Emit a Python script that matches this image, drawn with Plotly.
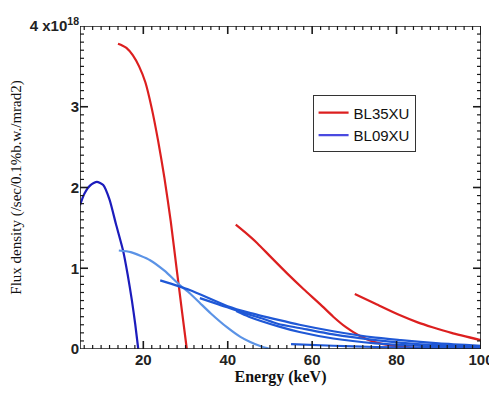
import plotly.graph_objects as go

# ---- data (energy keV, flux density x1e18) ----
red1_e = [14, 15, 16, 17.5, 19, 20.5, 22, 23.5, 25, 26.5, 28, 29.2, 30.3]
red1_f = [3.78, 3.76, 3.73, 3.64, 3.50, 3.30, 2.98, 2.58, 2.12, 1.58, 0.95, 0.45, 0.0]
red2_e = [41.9, 44, 47, 50, 54, 58, 62, 65, 68, 71, 74, 78, 83, 91]
red2_f = [1.54, 1.45, 1.31, 1.15, 0.94, 0.74, 0.55, 0.40, 0.27, 0.17, 0.10, 0.05, 0.02, 0.0]
red3_e = [70.1, 75, 80.7, 85, 88.5, 93, 100]
red3_f = [0.68, 0.56, 0.42, 0.33, 0.27, 0.20, 0.11]

blue1_e = [5, 6, 7.5, 9, 10.5, 12, 13.5, 15.2, 16.3, 17.3, 18.1, 18.8]
blue1_f = [1.78, 1.92, 2.03, 2.07, 2.03, 1.85, 1.55, 1.22, 0.92, 0.60, 0.30, 0.0]
blue2_e = [14.2, 17, 21.6, 25, 28.7, 31, 33.4, 36, 39.8, 43, 45.2, 48, 50]
blue2_f = [1.22, 1.20, 1.10, 0.97, 0.79, 0.69, 0.57, 0.44, 0.27, 0.15, 0.09, 0.03, 0.0]
blue3_e = [24, 31, 40, 45, 52, 57, 65, 75, 81, 90, 100]
blue3_f = [0.85, 0.73, 0.53, 0.45, 0.36, 0.30, 0.22, 0.14, 0.11, 0.07, 0.04]
blue4_e = [33.4, 38, 43, 48, 52, 57, 65, 75, 85, 100]
blue4_f = [0.63, 0.55, 0.46, 0.38, 0.31, 0.26, 0.18, 0.11, 0.06, 0.03]
blue5_e = [42, 45, 52, 57, 65, 75, 85, 100]
blue5_f = [0.47, 0.40, 0.28, 0.21, 0.13, 0.07, 0.04, 0.02]
blue6_e = [55, 65, 75, 85, 100]
blue6_f = [0.06, 0.04, 0.025, 0.015, 0.01]

# axes and ticks
x_range = [5, 100]
y_range = [0, 4]
x_major = [20, 40, 60, 80, 100]
x_minor = [e for e in range(6, 100, 2) if e % 20 != 0]
y_major = [1, 2, 3]
y_minor = [round(0.1 * i, 1) for i in range(1, 40) if i % 10 != 0]
y_label_alias = {"4": "4 x10<sup>18</sup>"}

RED = "#dc1f1f"
DBLUE = "#1c1cbc"
LBLUE = "#5b93e6"
MBLUE = "#1f58d6"
INK = "#1a1a1a"

W, H = 489, 388
ML, MR, MT, MB = 72, 16, 18, 47
PLOT_W = W - ML - MR
PLOT_H = H - MT - MB
X_PER_PX = (x_range[1] - x_range[0]) / PLOT_W
Y_PER_PX = (y_range[1] - y_range[0]) / PLOT_H

fig = go.Figure()

def add(e, f, color, name, show, group):
    fig.add_trace(go.Scatter(x=e, y=f, mode="lines", line=dict(color=color, width=2.2, shape="spline", smoothing=0.6),
                             name=name, legendgroup=group, showlegend=show))

add(red1_e, red1_f, RED, "BL35XU", True, "r")
add(red2_e, red2_f, RED, "BL35XU", False, "r")
add(red3_e, red3_f, RED, "BL35XU", False, "r")
add(blue1_e, blue1_f, DBLUE, "BL09XU", False, "b")
add(blue2_e, blue2_f, LBLUE, "BL09XU", False, "b")
add(blue3_e, blue3_f, MBLUE, "BL09XU", False, "b")
add(blue4_e, blue4_f, MBLUE, "BL09XU", False, "b")
add(blue5_e, blue5_f, MBLUE, "BL09XU", False, "b")
add(blue6_e, blue6_f, MBLUE, "BL09XU", False, "b")
fig.add_trace(go.Scatter(x=[None], y=[None], mode="lines", line=dict(color="#4a4ae0", width=2.2),
                         name="BL09XU", legendgroup="b", showlegend=True))

# frame and inside tick marks drawn as line traces
def segs(pairs, width):
    xs, ys = [], []
    for (x0, y0, x1, y1) in pairs:
        xs += [x0, x1, None]
        ys += [y0, y1, None]
    fig.add_trace(go.Scatter(x=xs, y=ys, mode="lines", cliponaxis=False, showlegend=False, hoverinfo="skip",
                             line=dict(color=INK, width=width)))

x0, x1 = x_range
y0, y1 = y_range
segs([(x0, y0, x1, y0), (x1, y0, x1, y1), (x1, y1, x0, y1), (x0, y1, x0, y0)], 1.6)
maj_dy, min_dy = 8 * Y_PER_PX, 4 * Y_PER_PX
maj_dx, min_dx = 8 * X_PER_PX, 4 * X_PER_PX
segs([(xv, y0, xv, y0 + maj_dy) for xv in x_major] + [(xv, y1, xv, y1 - maj_dy) for xv in x_major]
     + [(x0, yv, x0 + maj_dx, yv) for yv in y_major] + [(x1, yv, x1 - maj_dx, yv) for yv in y_major], 1.6)
segs([(xv, y0, xv, y0 + min_dy) for xv in x_minor] + [(xv, y1, xv, y1 - min_dy) for xv in x_minor]
     + [(x0, yv, x0 + min_dx, yv) for yv in y_minor] + [(x1, yv, x1 - min_dx, yv) for yv in y_minor], 1.2)

tickfont = dict(family="Liberation Sans, Arial", size=15, color="#222", weight="bold")

fig.update_layout(
    xaxis=dict(range=x_range, tickmode="array", tickvals=x_major, automargin=False,
               showline=False, ticks="", showgrid=False, zeroline=False, tickfont=tickfont,
               title=dict(text="<b>Energy (keV)</b>", font=dict(family="Liberation Serif, Times New Roman", size=16, color="#111"), standoff=2)),
    yaxis=dict(range=y_range, tickmode="linear", tick0=0, dtick=1, labelalias=y_label_alias, automargin=False,
               showline=False, ticks="", showgrid=False, zeroline=False, tickfont=tickfont,
               title=dict(text="Flux density (/sec/0.1%b.w./mrad2)", font=dict(family="Liberation Serif, Times New Roman", size=15, color="#111"), standoff=8)),
)

# page body has an 8px margin, so the figure is shifted by 8px
fig.update_layout(width=W, height=H, margin=dict(l=ML, r=MR, t=MT, b=MB),
                  paper_bgcolor="white", plot_bgcolor="white",
                  legend=dict(x=0.58, y=0.785, xanchor="left", yanchor="top",
                              bgcolor="white", bordercolor="#333", borderwidth=1,
                              font=dict(family="Liberation Sans, Arial", size=15, color="#111"),
                              tracegroupgap=0, itemwidth=30),
                  showlegend=True)

fig.write_html("out.html")
